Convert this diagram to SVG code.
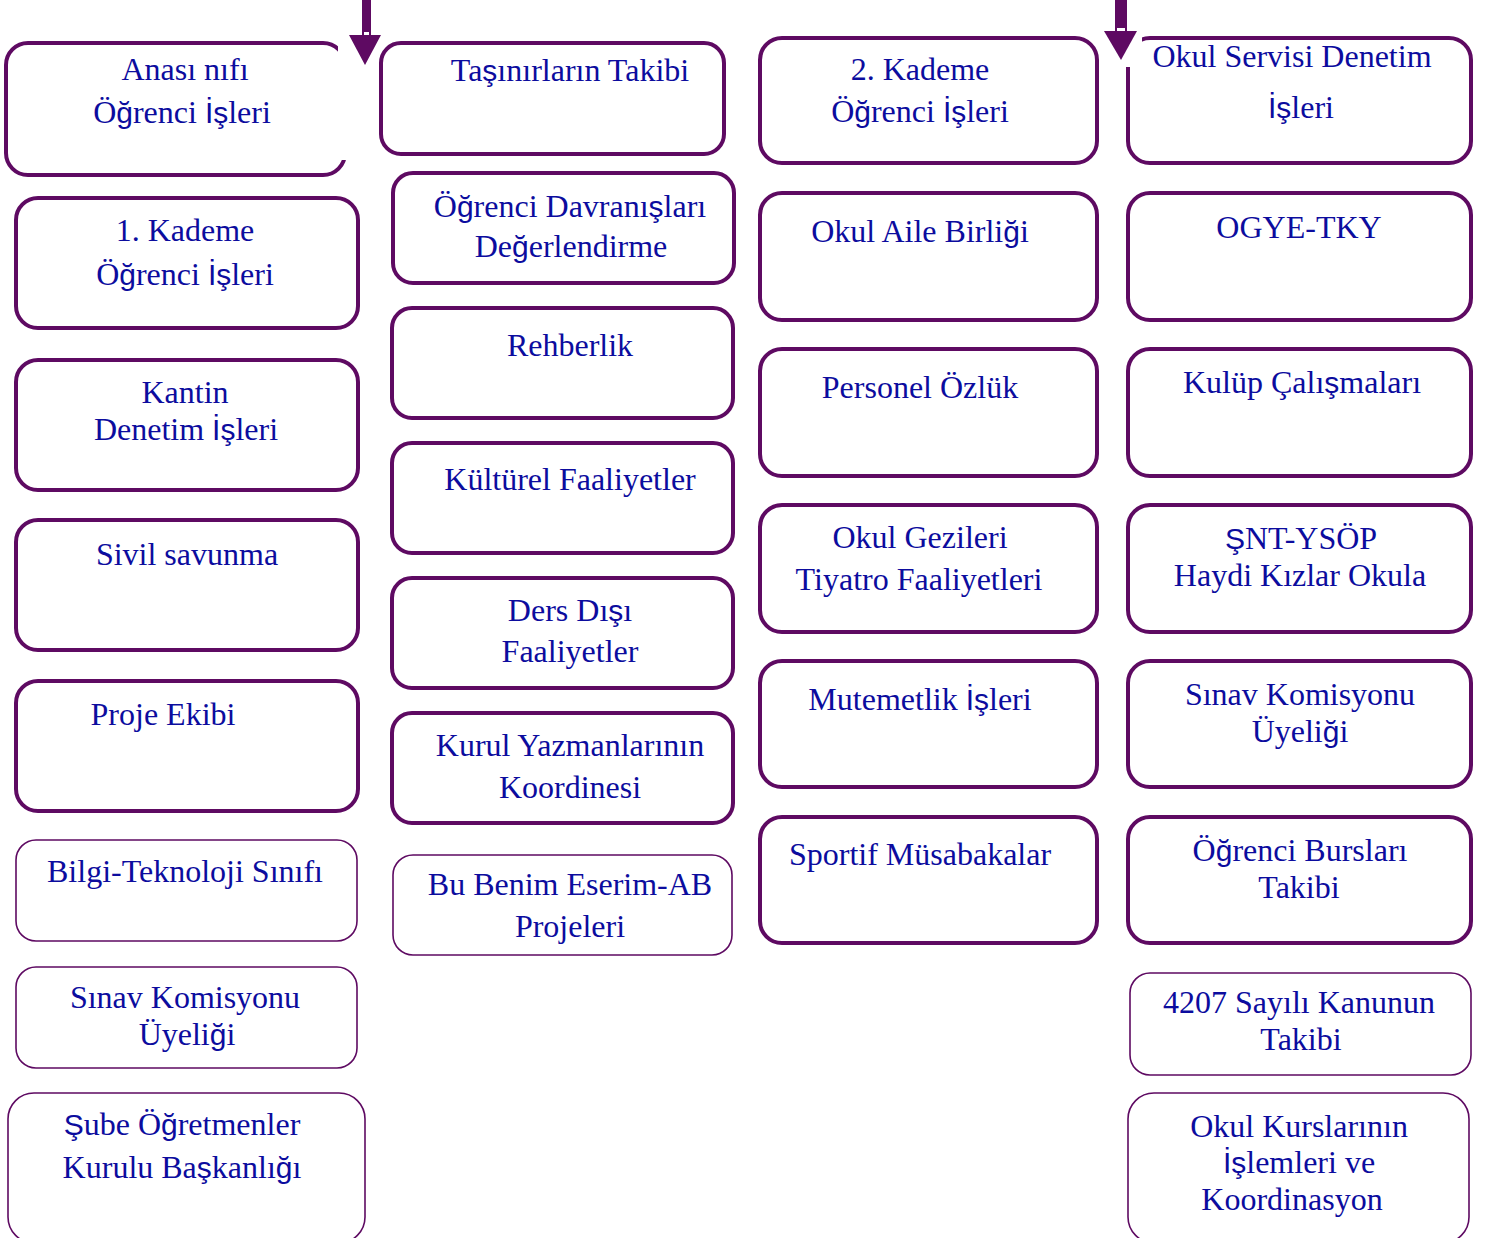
<svg xmlns="http://www.w3.org/2000/svg" width="1489" height="1238" viewBox="0 0 1489 1238">
<style>
.b{fill:#fff;stroke:#5e0a62;stroke-width:4}
.t{fill:#fff;stroke:#5e0a62;stroke-width:1.6}
.x{font-family:'Liberation Serif','Times New Roman',serif;font-size:32px;fill:#0c0c9e;text-anchor:middle}
.s{font-family:'Liberation Sans',Arial,sans-serif;font-size:30px}
.a{fill:#5e0a62}
</style>
<rect width="1489" height="1238" fill="#fff"/>
<g id="c1">
<g id="n-anasinifi"><rect class="b" x="6" y="43" width="339" height="132" rx="22"/><rect x="338" y="46" width="12" height="114" fill="#fff"/><text class="x" x="185" y="80">Anası nıfı</text><text class="x" x="182" y="123">Ö<tspan class="s">ğ</tspan>renci <tspan class="s">İş</tspan>leri</text></g>
<g id="n-kademe1"><rect class="b" x="16" y="198" width="342" height="130" rx="22"/><text class="x" x="185" y="241">1. Kademe</text><text class="x" x="185" y="285">Ö<tspan class="s">ğ</tspan>renci <tspan class="s">İş</tspan>leri</text></g>
<g id="n-kantin"><rect class="b" x="16" y="360" width="342" height="130" rx="22"/><text class="x" x="185" y="403">Kantin</text><text class="x" x="186" y="440">Denetim <tspan class="s">İş</tspan>leri</text></g>
<g id="n-sivil"><rect class="b" x="16" y="520" width="342" height="130" rx="22"/><text class="x" x="187" y="565">Sivil savunma</text></g>
<g id="n-proje"><rect class="b" x="16" y="681" width="342" height="130" rx="22"/><text class="x" x="163" y="725">Proje Ekibi</text></g>
<g id="n-bilgi"><rect class="t" x="16" y="840" width="341" height="101" rx="20"/><text class="x" x="185" y="882">Bilgi-Teknoloji Sınıfı</text></g>
<g id="n-sinav1"><rect class="t" x="16" y="967" width="341" height="101" rx="20"/><text class="x" x="185" y="1008">Sınav Komisyonu</text><text class="x" x="187" y="1045">Üyeli<tspan class="s">ğ</tspan>i</text></g>
<g id="n-sube"><rect class="t" x="8" y="1093" width="357" height="150" rx="26"/><text class="x" x="182" y="1135"><tspan class="s">Ş</tspan>ube Ö<tspan class="s">ğ</tspan>retmenler</text><text class="x" x="182" y="1178">Kurulu Ba<tspan class="s">ş</tspan>kanlı<tspan class="s">ğ</tspan>ı</text></g>
</g>
<g id="c2">
<g id="n-tasinir"><rect class="b" x="381" y="43" width="343" height="111" rx="20"/><text class="x" x="570" y="81">Ta<tspan class="s">ş</tspan>ınırların Takibi</text></g>
<g id="n-davranis"><rect class="b" x="393" y="173" width="341" height="110" rx="20"/><text class="x" x="570" y="217">Ö<tspan class="s">ğ</tspan>renci Davranı<tspan class="s">ş</tspan>ları</text><text class="x" x="571" y="257">De<tspan class="s">ğ</tspan>erlendirme</text></g>
<g id="n-rehberlik"><rect class="b" x="392" y="308" width="341" height="110" rx="20"/><text class="x" x="570" y="356">Rehberlik</text></g>
<g id="n-kulturel"><rect class="b" x="392" y="443" width="341" height="110" rx="20"/><text class="x" x="570" y="490">Kültürel Faaliyetler</text></g>
<g id="n-dersdisi"><rect class="b" x="392" y="578" width="341" height="110" rx="20"/><text class="x" x="570" y="621">Ders Dı<tspan class="s">ş</tspan>ı</text><text class="x" x="570" y="662">Faaliyetler</text></g>
<g id="n-kurul"><rect class="b" x="392" y="713" width="341" height="110" rx="20"/><text class="x" x="570" y="756">Kurul Yazmanlarının</text><text class="x" x="570" y="798">Koordinesi</text></g>
<g id="n-eserim"><rect class="t" x="393" y="855" width="339" height="100" rx="20"/><text class="x" x="570" y="895">Bu Benim Eserim-AB</text><text class="x" x="570" y="937">Projeleri</text></g>
</g>
<g id="c3">
<g id="n-kademe2"><rect class="b" x="760" y="38" width="337" height="125" rx="22"/><text class="x" x="920" y="80">2. Kademe</text><text class="x" x="920" y="122">Ö<tspan class="s">ğ</tspan>renci <tspan class="s">İş</tspan>leri</text></g>
<g id="n-aile"><rect class="b" x="760" y="193" width="337" height="127" rx="22"/><text class="x" x="920" y="242">Okul Aile Birli<tspan class="s">ğ</tspan>i</text></g>
<g id="n-personel"><rect class="b" x="760" y="349" width="337" height="127" rx="22"/><text class="x" x="920" y="398">Personel Özlük</text></g>
<g id="n-geziler"><rect class="b" x="760" y="505" width="337" height="127" rx="22"/><text class="x" x="920" y="548">Okul Gezileri</text><text class="x" x="919" y="590">Tiyatro Faaliyetleri</text></g>
<g id="n-mutemetlik"><rect class="b" x="760" y="661" width="337" height="126" rx="22"/><text class="x" x="920" y="710">Mutemetlik <tspan class="s">İş</tspan>leri</text></g>
<g id="n-sportif"><rect class="b" x="760" y="817" width="337" height="126" rx="22"/><text class="x" x="920" y="865">Sportif Müsabakalar</text></g>
</g>
<g id="c4">
<g id="n-servis"><rect class="b" x="1128" y="38" width="343" height="125" rx="22"/><rect x="1101" y="0" width="41" height="67" fill="#fff"/><text class="x" x="1292" y="67">Okul Servisi Denetim</text><text class="x" x="1301" y="118"><tspan class="s">İş</tspan>leri</text></g>
<g id="n-ogye"><rect class="b" x="1128" y="193" width="343" height="127" rx="22"/><text class="x" x="1299" y="238">OGYE-TKY</text></g>
<g id="n-kulup"><rect class="b" x="1128" y="349" width="343" height="127" rx="22"/><text class="x" x="1302" y="393">Kulüp Çalı<tspan class="s">ş</tspan>maları</text></g>
<g id="n-snt"><rect class="b" x="1128" y="505" width="343" height="127" rx="22"/><text class="x" x="1301" y="549"><tspan class="s">Ş</tspan>NT-YSÖP</text><text class="x" x="1300" y="586">Haydi Kızlar Okula</text></g>
<g id="n-sinav2"><rect class="b" x="1128" y="661" width="343" height="126" rx="22"/><text class="x" x="1300" y="705">Sınav Komisyonu</text><text class="x" x="1300" y="742">Üyeli<tspan class="s">ğ</tspan>i</text></g>
<g id="n-burs"><rect class="b" x="1128" y="817" width="343" height="126" rx="22"/><text class="x" x="1300" y="861">Ö<tspan class="s">ğ</tspan>renci Bursları</text><text class="x" x="1299" y="898">Takibi</text></g>
<g id="n-4207"><rect class="t" x="1130" y="973" width="341" height="102" rx="20"/><text class="x" x="1299" y="1013">4207 Sayılı Kanunun</text><text class="x" x="1301" y="1050">Takibi</text></g>
<g id="n-kurslar"><rect class="t" x="1128" y="1093" width="341" height="150" rx="26"/><text class="x" x="1299" y="1137">Okul Kurslarının</text><text class="x" x="1299" y="1173"><tspan class="s">İş</tspan>lemleri ve</text><text class="x" x="1292" y="1210">Koordinasyon</text></g>
</g>
<g id="connectors">
<rect class="a" x="362" y="0" width="9" height="36"/><rect x="364" y="32" width="5" height="3" fill="#fff"/><polygon class="a" points="349,35 381,35 365,65"/>
<rect class="a" x="1115" y="0" width="12" height="31"/><rect x="1117" y="28" width="8" height="3" fill="#fff"/><polygon class="a" points="1104,31 1137,31 1121,60"/>
</g>
</svg>
